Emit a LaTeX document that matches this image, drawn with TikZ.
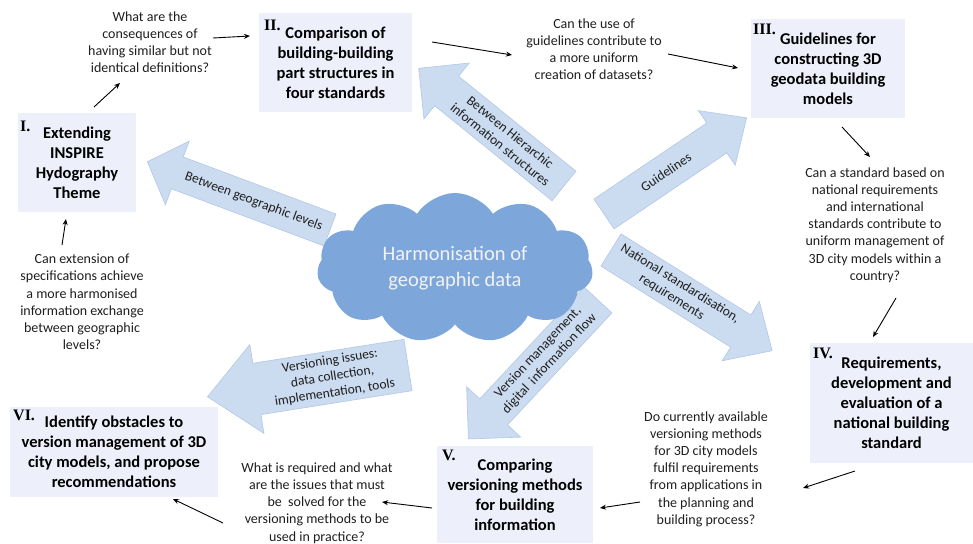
\documentclass[tikz,border=0pt]{standalone}
\usepackage{fontspec}
\setmainfont{Carlito}
\newfontfamily\numfont{Liberation Serif}
\usetikzlibrary{shapes.symbols,arrows.meta}

\definecolor{boxfill}{RGB}{237,240,250}
\definecolor{arrowfill}{RGB}{203,219,240}
\definecolor{arrowline}{RGB}{178,200,231}
\definecolor{cloudblue}{RGB}{125,167,219}
\definecolor{qtext}{RGB}{30,30,30}

\begin{document}
\begin{tikzpicture}
  [x=1pt,y=-1pt,
   stagebox/.style={rectangle,fill=boxfill,align=center,inner sep=0pt,
     font=\fontsize{16.5}{20}\selectfont\bfseries},
   question/.style={align=center,inner sep=0pt,text=qtext,
     font=\fontsize{14}{17.2}\selectfont},
   numeral/.style={anchor=west,inner sep=0pt,font=\numfont\fontsize{16}{16}\selectfont\bfseries},
   qarrow/.style={-{Stealth[length=6pt,width=5pt]},line width=0.9pt},
   bigarrow/.style={fill=arrowfill,draw=arrowline,line width=0.6pt},
   arrowtext/.style={align=center,inner sep=0pt,text=qtext,
     font=\fontsize{13.5}{16}\selectfont},
   hubcloud/.style={cloud,cloud puffs=11,cloud puff arc=115,aspect=1.85,
     fill=cloudblue,inner sep=0pt,minimum width=276,minimum height=150,
     align=center,text=white!95!black,font=\fontsize{20.5}{26}\selectfont}]
  \useasboundingbox (0,0) rectangle (973,543);

  \foreach \tx/\ty/\ang/\len/\shaft/\head/\hlen/\tpos/\trot/\lbl [count=\i] in {
      330/230/159.5/195/17/34/32/0.5/-20.5/{Between geographic levels},
      564/186/141/187/19/36/36/0.5/-39/{Between Hierarchic\\information structures},
      604/214/34/172/18/33/36/0.55/34/{Guidelines},
      611/250/-32/190/19/35/37/0.5/-32/{National standardisation,\\requirements},
      598/300/227/190/19/37/37/0.52/47/{Version management,\\digital\ \ information flow},
      408/365/189/203/26/45/50/0.5/9/{Versioning issues:\\data collection,\\implementation, tools}}
  {
    \begin{scope}[shift={(\tx,\ty)},rotate=\ang]
      \filldraw[bigarrow] (0,-\shaft) -- (\len-\hlen,-\shaft) -- (\len-\hlen,-\head)
        -- (\len,0) -- (\len-\hlen,\head) -- (\len-\hlen,\shaft) -- (0,\shaft) -- cycle;
      \node[arrowtext,rotate=\trot] (a\i) at ({(\len-\hlen)*\tpos},0) {\lbl};
    \end{scope}
  }

  \node[hubcloud] (hub) at (455,268) {Harmonisation of\\geographic data};

  \node[stagebox,minimum width=118,minimum height=99] (s1) at (77,162.5) {Extending\\INSPIRE\\Hydography\\Theme};
  \node[stagebox,minimum width=153,minimum height=99] (s2) at (335.5,62.5) {Comparison of\\building-building\\part structures in\\four standards};
  \node[stagebox,minimum width=154,minimum height=99] (s3) at (828,68.5) {Guidelines for\\constructing 3D\\geodata building\\models};
  \node[stagebox,minimum width=163,minimum height=120] (s4) at (891.5,403) {Requirements,\\development and\\evaluation of a\\national building\\standard};
  \node[stagebox,minimum width=156,minimum height=97] (s5) at (515,494.5) {Comparing\\versioning methods\\for building\\information};
  \node[stagebox,minimum width=208,minimum height=90] (s6) at (114,452) {Identify obstacles to\\version management of 3D\\city models, and propose\\recommendations};

  \node[numeral] (n1) at (20,126) {I.};
  \node[numeral] (n2) at (264,25) {II.};
  \node[numeral] (n3) at (753,29) {III.};
  \node[numeral] (n4) at (813,353) {IV.};
  \node[numeral] (n5) at (442,455) {V.};
  \node[numeral] (n6) at (13,415) {VI.};

  \node[question] (q1) at (150,42) {What are the\\consequences of\\having similar but not\\identical definitions?};
  \node[question] (q2) at (594,49) {Can the use of\\guidelines contribute to\\a more uniform\\creation of datasets?};
  \node[question] (q3) at (875,225) {Can a standard based on\\national requirements\\and international\\standards contribute to\\uniform management of\\3D city models within a\\country?};
  \node[question] (q4) at (706,469) {Do currently available\\versioning methods\\for 3D city models\\fulfil requirements\\from applications in\\the planning and\\building process?};
  \node[question] (q5) at (317,503) {What is required and what\\are the issues that must\\be\ \ solved for the\\versioning methods to be\\used in practice?};
  \node[question] (q6) at (82,302) {Can extension of\\specifications achieve\\a more harmonised\\information exchange\\between geographic\\levels?};

  \foreach \from/\fs/\to/\ts in {s1/{17,-55.5}/q1/{-30,41}, q1/{63,-4}/s2/{-85.5,-26.5},
      s2/{96.5,-20.5}/q2/{-82,6}, q2/{74,5}/s3/{-90,-0.5}, s3/{14,58.5}/q3/{-5,-68},
      q3/{21,73}/s4/{-18.5,-66}, s4/{-36.5,68}/q4/{97,19}, q4/{-66,33}/s5/{85,13.5},
      s5/{-83,13.5}/q5/{65,-1}, q5/{-94,20}/s6/{59,47}, q6/{-20,-57}/s1/{-11,56.5}}
    \draw[qarrow] ([shift={(\fs)}]\from.center) -- ([shift={(\ts)}]\to.center);

\end{tikzpicture}
\end{document}
